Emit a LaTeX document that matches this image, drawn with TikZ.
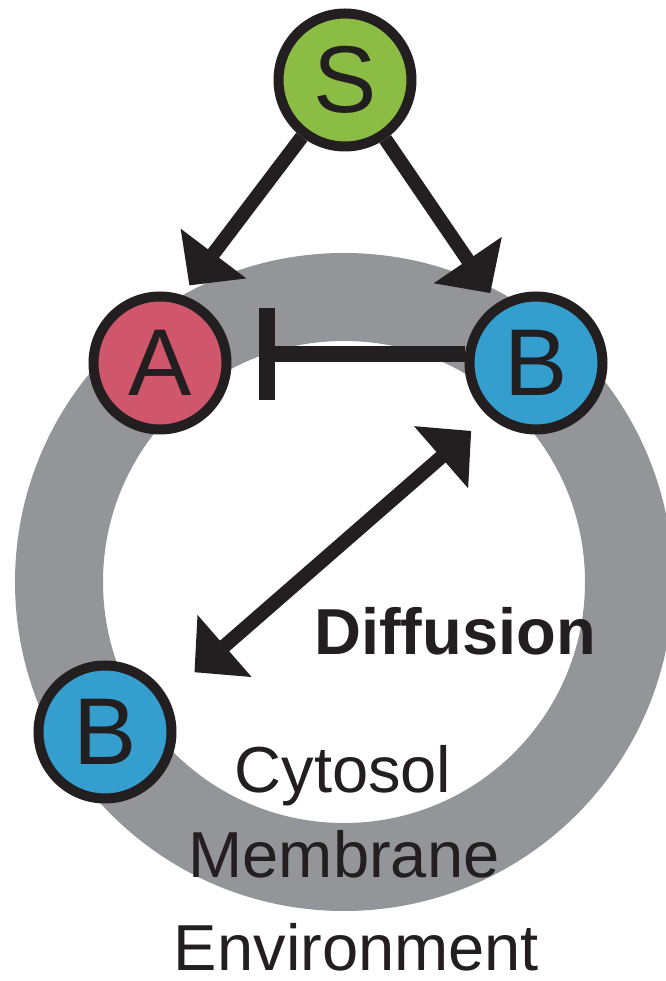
\documentclass[tikz,border=0pt]{standalone}
\usepackage{fontspec}
\setmainfont{Liberation Sans}
\usepackage{xcolor}
\usepackage{tikz}
\usetikzlibrary{arrows.meta,calc}
\definecolor{ink}{HTML}{231F20}
\definecolor{membrane}{HTML}{939598}
\definecolor{leaf}{HTML}{8BBD45}
\definecolor{rose}{HTML}{D0566B}
\definecolor{sky}{HTML}{349FCE}
\tikzset{
  mol/.style={circle,draw=ink,line width=0.2cm,minimum size=2.66cm,inner sep=0pt,text=ink,font=\fontsize{54}{60}\selectfont},
  lab/.style={anchor=base,text=ink,inner sep=0pt,font=\fontsize{37}{44}\selectfont},
  act/.style={draw=ink,line width=0.28cm,-{Triangle[length=0.8cm,width=1.6cm]}},
  diff/.style={draw=ink,line width=0.28cm,{Triangle[length=0.8cm,width=1.6cm]}-{Triangle[length=0.8cm,width=1.6cm]}},
  inhib/.style={draw=ink,line width=0.32cm,-{Bar[width=1.84cm]}},
}
\begin{document}
\begin{tikzpicture}
  \useasboundingbox (0,0) rectangle (13.3,19.62);
  \draw[membrane,line width=1.76cm] (6.88,7.98) circle[radius=5.70cm];
  \node[mol,fill=leaf] (S) at (6.90,18.02) {S};
  \node[mol,fill=rose] (A) at (3.20,12.36) {A};
  \node[mol,fill=sky] (Bm) at (10.72,12.36) {B};
  \node[mol,fill=sky] (Bc) at (2.10,4.98) {B};
  \draw[act,shorten >=0.24cm] (S) -- (A.72);
  \draw[act,shorten >=0.24cm] (S) -- (Bm.123);
  \draw[inhib,shorten >=0.55cm] ([yshift=0.18cm]Bm.west) -- ([yshift=0.18cm]A.east);
  \draw[diff,shorten <=0.45cm,shorten >=0.73cm] (Bm.228) -- (Bc.30);
  \node[lab,font=\fontsize{37}{44}\selectfont\bfseries] (diffusion) at (9.10,6.52) {Diffusion};
  \node[lab] (cytosol) at (6.86,3.76) {Cytosol};
  \node[lab] (membrane) at (6.88,2.06) {Membrane};
  \node[lab] (environment) at (7.13,0.22) {Environment};
\end{tikzpicture}
\end{document}
